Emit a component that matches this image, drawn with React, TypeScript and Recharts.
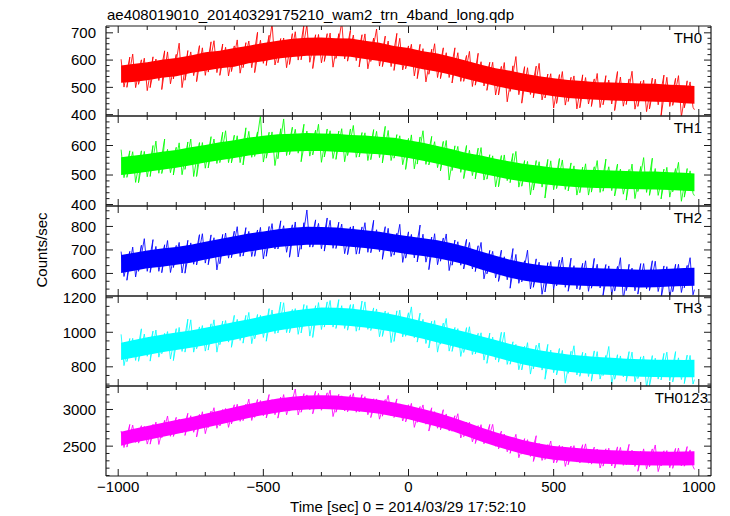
import React from "react";
import { ComposedChart, Line, Area, XAxis, YAxis } from "recharts";

const TITLE = "ae408019010_20140329175210_wam2_trn_4band_long.qdp";
const X_LABEL = "Time [sec] 0 = 2014/03/29 17:52:10";
const Y_LABEL = "Counts/sec";
const PANEL_NAMES = ["TH0", "TH1", "TH2", "TH3", "TH0123"];

const X_DOMAIN = [-1042, 1042];
const X_TICKS = [-1000, -900, -800, -700, -600, -500, -400, -300, -200, -100, 0, 100, 200, 300, 400, 500, 600, 700, 800, 900, 1000];
const X_TICK_LABELS = [-1000, -500, 0, 500, 1000];

const TH0_Y_DOMAIN = [395, 725];
const TH0_Y_TICKS = [400, 420, 440, 460, 480, 500, 520, 540, 560, 580, 600, 620, 640, 660, 680, 700, 720];
const TH0_Y_LABELS = [400, 500, 600, 700];
const TH1_Y_DOMAIN = [395, 700];
const TH1_Y_TICKS = [400, 420, 440, 460, 480, 500, 520, 540, 560, 580, 600, 620, 640, 660, 680];
const TH1_Y_LABELS = [400, 500, 600];
const TH2_Y_DOMAIN = [504, 887];
const TH2_Y_TICKS = [533.33, 566.67, 600, 633.33, 666.67, 700, 733.33, 766.67, 800, 833.33, 866.67];
const TH2_Y_LABELS = [600, 700, 800];
const TH3_Y_DOMAIN = [689, 1210];
const TH3_Y_TICKS = [700, 750, 800, 850, 900, 950, 1000, 1050, 1100, 1150, 1200];
const TH3_Y_LABELS = [800, 1000, 1200];
const TH0123_Y_DOMAIN = [2093, 3320];
const TH0123_Y_TICKS = [2100, 2200, 2300, 2400, 2500, 2600, 2700, 2800, 2900, 3000, 3100, 3200, 3300];
const TH0123_Y_LABELS = [2500, 3000];

// time grid of the noise band envelope
const BAND_T = [-990, -950, -900, -850, -800, -750, -700, -650, -600, -550, -500, -450, -400, -350, -300, -250, -200, -150, -100, -50, 0, 50, 100, 150, 200, 250, 300, 350, 400, 450, 500, 550, 600, 650, 700, 750, 800, 850, 900, 950, 985];

const TH0_LO = [517, 520, 526, 535, 541, 553, 561, 570, 576, 588, 596, 606, 611, 616, 617, 615, 612, 604, 597, 587, 577, 566, 557, 545, 531, 518, 505, 494, 485, 476, 467, 461, 457, 455, 452, 450, 449, 447, 446, 442, 440];
const TH0_HI = [580, 586, 592, 601, 608, 617, 629, 634, 644, 653, 663, 671, 678, 682, 683, 680, 679, 671, 664, 652, 644, 632, 624, 611, 598, 583, 570, 561, 550, 541, 533, 527, 523, 519, 518, 516, 514, 513, 510, 508, 505];
const TH1_LO = [500, 504, 511, 518, 525, 533, 542, 550, 558, 566, 573, 577, 580, 581, 581, 579, 576, 573, 570, 565, 558, 548, 538, 526, 515, 505, 495, 485, 477, 470, 465, 461, 458, 456, 455, 453, 452, 451, 449, 447, 445];
const TH1_HI = [560, 565, 571, 579, 585, 594, 602, 611, 618, 627, 633, 638, 640, 642, 641, 640, 636, 634, 630, 626, 618, 609, 598, 587, 575, 566, 555, 546, 537, 531, 525, 522, 518, 517, 515, 514, 512, 512, 509, 508, 505];
const TH2_LO = [602, 610, 622, 629, 637, 646, 659, 671, 682, 693, 703, 712, 718, 722, 722, 719, 714, 708, 701, 691, 682, 674, 665, 652, 637, 617, 599, 582, 569, 560, 554, 550, 548, 546, 544, 542, 540, 541, 544, 547, 548];
const TH2_HI = [678, 687, 698, 706, 713, 722, 735, 747, 758, 770, 779, 788, 794, 799, 798, 795, 790, 784, 777, 767, 758, 750, 741, 728, 713, 693, 675, 658, 645, 636, 630, 626, 624, 622, 620, 618, 616, 617, 620, 623, 624];
const TH3_LO = [840, 852, 869, 885, 898, 910, 925, 942, 957, 975, 993, 1010, 1023, 1035, 1042, 1042, 1037, 1028, 1016, 1002, 982, 962, 941, 920, 899, 877, 855, 832, 812, 796, 782, 771, 763, 757, 752, 747, 743, 741, 740, 740, 740];
const TH3_HI = [940, 954, 971, 985, 999, 1010, 1026, 1042, 1059, 1075, 1094, 1110, 1124, 1135, 1143, 1142, 1138, 1128, 1117, 1102, 1083, 1062, 1042, 1020, 1000, 977, 956, 932, 913, 896, 883, 871, 864, 857, 853, 847, 844, 841, 841, 840, 841];
const TH0123_LO = [2505, 2545, 2585, 2625, 2665, 2705, 2750, 2795, 2840, 2885, 2925, 2960, 2985, 3000, 3005, 3000, 2985, 2965, 2940, 2905, 2865, 2815, 2765, 2705, 2635, 2565, 2500, 2440, 2387, 2345, 2313, 2295, 2277, 2265, 2255, 2247, 2240, 2237, 2235, 2237, 2240];
const TH0123_HI = [2695, 2735, 2775, 2815, 2855, 2895, 2940, 2985, 3030, 3075, 3115, 3150, 3175, 3190, 3195, 3190, 3175, 3155, 3130, 3095, 3055, 3005, 2955, 2895, 2825, 2755, 2690, 2630, 2577, 2535, 2503, 2485, 2467, 2455, 2445, 2437, 2430, 2427, 2425, 2427, 2430];

// time grids of the individual excursions (two interleaved sets)
const SPIKE_T = [-990, -970, -950, -930, -910, -890, -870, -850, -830, -810, -790, -770, -750, -730, -710, -690, -670, -650, -630, -610, -590, -570, -550, -530, -510, -490, -470, -450, -430, -410, -390, -370, -350, -330, -310, -290, -270, -250, -230, -210, -190, -170, -150, -130, -110, -90, -70, -50, -30, -10, 10, 30, 50, 70, 90, 110, 130, 150, 170, 190, 210, 230, 250, 270, 290, 310, 330, 350, 370, 390, 410, 430, 450, 470, 490, 510, 530, 550, 570, 590, 610, 630, 650, 670, 690, 710, 730, 750, 770, 790, 810, 830, 850, 870, 890, 910, 930, 950, 970, 985];
const SPIKE_T2 = [-980, -960, -940, -920, -900, -880, -860, -840, -820, -800, -780, -760, -740, -720, -700, -680, -660, -640, -620, -600, -580, -560, -540, -520, -500, -480, -460, -440, -420, -400, -380, -360, -340, -320, -300, -280, -260, -240, -220, -200, -180, -160, -140, -120, -100, -80, -60, -40, -20, 0, 20, 40, 60, 80, 100, 120, 140, 160, 180, 200, 220, 240, 260, 280, 300, 320, 340, 360, 380, 400, 420, 440, 460, 480, 500, 520, 540, 560, 580, 600, 620, 640, 660, 680, 700, 720, 740, 760, 780, 800, 820, 840, 860, 880, 900, 920, 940, 960, 980];

const TH0_SPIKE = [603, 500, 622, 511, 607, 499, 604, 492, 630, 531, 662, 526, 630, 521, 645, 556, 671, 544, 647, 558, 674, 572, 670, 554, 673, 580, 735, 590, 681, 584, 704, 601, 730, 569, 694, 595, 699, 606, 740, 596, 692, 575, 696, 595, 714, 576, 670, 562, 680, 568, 658, 532, 642, 548, 660, 532, 627, 516, 627, 522, 632, 508, 594, 489, 592, 472, 591, 485, 613, 442, 572, 462, 588, 461, 550, 441, 558, 448, 542, 425, 536, 430, 551, 436, 527, 415, 538, 437, 559, 430, 526, 421, 530, 396, 537, 434, 543, 425, 520, 418];
const TH0_SPIKE2 = [501, 611, 499, 601, 488, 612, 525, 634, 513, 621, 499, 635, 543, 653, 544, 667, 554, 659, 542, 652, 552, 664, 572, 702, 588, 691, 582, 679, 572, 697, 600, 731, 592, 693, 590, 697, 574, 697, 604, 709, 598, 693, 568, 681, 578, 688, 576, 698, 564, 652, 542, 658, 520, 640, 536, 645, 536, 645, 522, 617, 503, 625, 505, 592, 472, 577, 447, 579, 473, 576, 474, 578, 454, 549, 424, 547, 435, 537, 421, 546, 439, 531, 426, 543, 439, 558, 431, 531, 420, 522, 411, 534, 436, 545, 430, 533, 392, 524, 427];
const TH1_SPIKE = [586, 492, 579, 474, 580, 495, 615, 505, 587, 500, 609, 519, 622, 495, 610, 524, 622, 542, 650, 541, 633, 534, 648, 563, 702, 557, 646, 555, 690, 569, 655, 545, 649, 568, 672, 561, 650, 553, 657, 566, 668, 561, 643, 552, 648, 541, 651, 557, 633, 519, 636, 537, 650, 534, 613, 514, 617, 515, 597, 488, 584, 487, 593, 486, 565, 460, 568, 474, 580, 462, 546, 449, 545, 422, 548, 454, 551, 446, 531, 440, 538, 442, 549, 445, 528, 429, 520, 415, 537, 444, 559, 431, 522, 419, 526, 443, 543, 425, 514, 430];
const TH1_SPIKE2 = [491, 582, 475, 582, 494, 600, 506, 622, 508, 594, 501, 612, 495, 610, 523, 630, 539, 645, 542, 635, 542, 660, 560, 646, 544, 645, 532, 657, 566, 662, 574, 672, 564, 652, 543, 656, 556, 649, 545, 656, 560, 644, 549, 654, 559, 665, 549, 637, 535, 624, 521, 629, 536, 631, 525, 614, 483, 599, 509, 600, 498, 591, 483, 569, 460, 566, 481, 573, 459, 549, 433, 549, 459, 553, 450, 556, 451, 541, 432, 527, 432, 528, 441, 554, 447, 537, 435, 519, 420, 529, 441, 557, 431, 520, 425, 522, 411, 522, 438];
const TH2_SPIKE = [693, 571, 712, 609, 748, 604, 715, 603, 740, 625, 732, 601, 730, 636, 769, 637, 752, 641, 772, 667, 799, 674, 779, 673, 796, 673, 812, 704, 803, 669, 819, 703, 870, 712, 813, 695, 826, 706, 810, 680, 802, 684, 816, 688, 786, 660, 792, 678, 809, 665, 766, 649, 767, 616, 769, 652, 768, 635, 735, 619, 732, 608, 732, 598, 694, 566, 671, 537, 681, 564, 699, 541, 648, 521, 650, 547, 669, 524, 633, 531, 654, 537, 639, 506, 632, 525, 667, 527, 623, 512, 642, 527, 652, 492, 629, 522, 639, 539, 667, 531];
const TH2_SPIKE2 = [587, 694, 585, 720, 609, 744, 609, 722, 604, 719, 602, 741, 639, 765, 644, 764, 615, 766, 665, 780, 672, 795, 672, 785, 662, 800, 704, 824, 690, 807, 670, 816, 712, 828, 705, 836, 707, 818, 684, 798, 682, 798, 690, 826, 693, 799, 672, 771, 647, 777, 666, 806, 648, 755, 637, 751, 612, 742, 635, 745, 619, 718, 577, 698, 581, 699, 573, 706, 558, 654, 534, 662, 511, 646, 533, 657, 541, 665, 534, 643, 524, 664, 538, 638, 509, 630, 491, 639, 526, 642, 534, 654, 523, 632, 498, 639, 519, 634, 509];
const TH3_SPIKE = [988, 830, 965, 832, 990, 833, 1013, 876, 1004, 836, 1028, 885, 1072, 904, 1039, 897, 1072, 928, 1068, 913, 1075, 937, 1115, 962, 1098, 948, 1129, 996, 1171, 997, 1137, 996, 1155, 970, 1172, 1030, 1184, 1022, 1154, 1012, 1162, 1012, 1176, 1010, 1135, 976, 1114, 947, 1128, 977, 1147, 943, 1075, 909, 1068, 931, 1080, 889, 1021, 883, 1032, 874, 997, 820, 972, 827, 1000, 815, 930, 782, 940, 788, 938, 728, 897, 753, 895, 762, 922, 745, 879, 717, 888, 749, 918, 728, 863, 716, 885, 732, 863, 691, 850, 724, 885, 712, 852, 703, 866, 726];
const TH3_SPIKE2 = [807, 964, 837, 1020, 861, 1007, 856, 994, 845, 1021, 889, 1076, 885, 1031, 891, 1049, 885, 1065, 943, 1098, 953, 1098, 934, 1103, 970, 1137, 993, 1175, 998, 1132, 988, 1161, 978, 1154, 1016, 1176, 1030, 1189, 1022, 1160, 1006, 1181, 1017, 1141, 974, 1123, 940, 1124, 973, 1113, 968, 1111, 935, 1064, 885, 1053, 891, 1028, 860, 1027, 871, 994, 839, 995, 841, 1000, 814, 945, 783, 919, 758, 925, 781, 930, 766, 906, 705, 890, 753, 884, 744, 892, 729, 866, 701, 870, 742, 888, 714, 858, 681, 865, 729, 878, 720, 888, 726, 868, 700];
const TH0123_SPIKE = [2706, 2487, 2787, 2541, 2769, 2527, 2828, 2614, 2911, 2632, 2869, 2646, 2915, 2625, 2969, 2753, 3024, 2775, 3014, 2802, 3071, 2847, 3141, 2892, 3122, 2884, 3133, 2882, 3203, 2978, 3279, 2962, 3199, 2941, 3219, 3007, 3263, 2962, 3186, 2968, 3219, 2967, 3175, 2889, 3144, 2908, 3193, 2890, 3076, 2830, 3083, 2824, 3062, 2706, 2971, 2721, 2939, 2703, 2942, 2629, 2826, 2536, 2793, 2542, 2797, 2463, 2665, 2402, 2661, 2391, 2588, 2291, 2537, 2317, 2570, 2275, 2498, 2247, 2507, 2270, 2531, 2255, 2461, 2227, 2472, 2201, 2483, 2245, 2445, 2157, 2463, 2218, 2516, 2230, 2440, 2197, 2474, 2226, 2449, 2183];
const TH0123_SPIKE2 = [2481, 2796, 2551, 2779, 2528, 2797, 2523, 2852, 2634, 2893, 2684, 2948, 2689, 2933, 2670, 2978, 2743, 3000, 2756, 3064, 2838, 3072, 2850, 3137, 2914, 3204, 2928, 3170, 2927, 3171, 2925, 3216, 2995, 3250, 2989, 3227, 2903, 3207, 2980, 3200, 2962, 3202, 2928, 3146, 2868, 3136, 2915, 3144, 2843, 3065, 2756, 3040, 2799, 3023, 2744, 2997, 2706, 2915, 2611, 2827, 2559, 2780, 2532, 2796, 2499, 2704, 2423, 2617, 2342, 2603, 2359, 2642, 2305, 2522, 2271, 2511, 2224, 2502, 2283, 2520, 2267, 2487, 2202, 2464, 2230, 2490, 2238, 2525, 2223, 2432, 2187, 2462, 2153, 2437, 2206, 2469, 2231, 2494, 2225];

// ---------- layout / style ----------
const W = 730;
const H = 516;
const PLOT_LEFT = 106;
const PLOT_RIGHT = 711;
const PANEL_H = 90;
const PAD = 12;
const PANEL_TOPS = [26, 116, 206, 296, 386];
const LABEL_RIGHT = [702, 702, 702, 702, 708];
const FONT = '"Liberation Sans", Arial, Helvetica, sans-serif';
const FRAME = "#1c1c1c";
const COLORS = ["#ff0000", "#00ff00", "#0000ff", "#00ffff", "#ff00ff"];

type PanelDef = {
  name: string;
  color: string;
  domain: number[];
  ticks: number[];
  labels: number[];
  lo: number[];
  hi: number[];
  spike: number[];
  spike2: number[];
};

const PANELS: PanelDef[] = [
  { name: PANEL_NAMES[0], color: COLORS[0], domain: TH0_Y_DOMAIN, ticks: TH0_Y_TICKS, labels: TH0_Y_LABELS, lo: TH0_LO, hi: TH0_HI, spike: TH0_SPIKE, spike2: TH0_SPIKE2 },
  { name: PANEL_NAMES[1], color: COLORS[1], domain: TH1_Y_DOMAIN, ticks: TH1_Y_TICKS, labels: TH1_Y_LABELS, lo: TH1_LO, hi: TH1_HI, spike: TH1_SPIKE, spike2: TH1_SPIKE2 },
  { name: PANEL_NAMES[2], color: COLORS[2], domain: TH2_Y_DOMAIN, ticks: TH2_Y_TICKS, labels: TH2_Y_LABELS, lo: TH2_LO, hi: TH2_HI, spike: TH2_SPIKE, spike2: TH2_SPIKE2 },
  { name: PANEL_NAMES[3], color: COLORS[3], domain: TH3_Y_DOMAIN, ticks: TH3_Y_TICKS, labels: TH3_Y_LABELS, lo: TH3_LO, hi: TH3_HI, spike: TH3_SPIKE, spike2: TH3_SPIKE2 },
  { name: PANEL_NAMES[4], color: COLORS[4], domain: TH0123_Y_DOMAIN, ticks: TH0123_Y_TICKS, labels: TH0123_Y_LABELS, lo: TH0123_LO, hi: TH0123_HI, spike: TH0123_SPIKE, spike2: TH0123_SPIKE2 },
];

const fmt = (v: number) => (v < 0 ? "\u2212" + Math.abs(v) : String(v));

// interleave the two excursion sets so that the trace alternates high/low
function buildTrace(a: number[], b: number[]) {
  const rows: { t: number; v: number }[] = [];
  for (let k = 0; k < SPIKE_T.length; k++) {
    const p1 = { t: SPIKE_T[k], v: a[k] };
    const p2 = k < SPIKE_T2.length ? { t: SPIKE_T2[k], v: b[k] } : null;
    if (k % 2 === 0) {
      rows.push(p1);
      if (p2) rows.push(p2);
    } else {
      if (p2) rows.push(p2);
      rows.push(p1);
    }
  }
  return rows;
}

function Panel({ idx, def, last }: { idx: number; def: PanelDef; last: boolean }) {
  const mb = last ? 45 : PAD;
  const h = PANEL_H + PAD + mb;
  const plotTop = PAD;
  const plotBottom = PAD + PANEL_H;
  const band = BAND_T.map((t, i) => ({ t, r: [def.lo[i], def.hi[i]] }));
  const trace = buildTrace(def.spike, def.spike2);

  const isMajorY = (v: number) => def.labels.some((l) => Math.abs(l - v) < 0.01);

  const yTick = (side: string) => (p: any) => {
    const y = p.payload.coordinate;
    const v = p.payload.value;
    const major = isMajorY(v);
    const len = major ? 7 : 3.5;
    if (side === "l") {
      return (
        <g>
          <line x1={PLOT_LEFT} x2={PLOT_LEFT + len} y1={y} y2={y} stroke={FRAME} strokeWidth={1} />
          {major && (
            <text x={96} y={y} dy="0.36em" textAnchor="end" fontFamily={FONT} fontSize={15} fill="#000">
              {fmt(v)}
            </text>
          )}
        </g>
      );
    }
    return <line x1={PLOT_RIGHT} x2={PLOT_RIGHT - len} y1={y} y2={y} stroke={FRAME} strokeWidth={1} />;
  };

  const xTick = (side: string) => (p: any) => {
    const x = p.payload.coordinate;
    const v = p.payload.value;
    const major = X_TICK_LABELS.includes(v);
    const len = major ? 7 : 4;
    if (side === "t") {
      return <line x1={x} x2={x} y1={plotTop} y2={plotTop + len} stroke={FRAME} strokeWidth={1} />;
    }
    return (
      <g>
        <line x1={x} x2={x} y1={plotBottom} y2={plotBottom - len} stroke={FRAME} strokeWidth={1} />
        {last && major && (
          <text x={x} y={plotBottom + 16} textAnchor="middle" fontFamily={FONT} fontSize={15} fill="#000">
            {fmt(v)}
          </text>
        )}
      </g>
    );
  };

  return (
    <div style={{ position: "absolute", left: 0, top: PANEL_TOPS[idx] - PAD }}>
      <ComposedChart
        width={W}
        height={h}
        margin={{ top: PAD - 1, right: W - PLOT_RIGHT - 1, bottom: mb - 1, left: PLOT_LEFT - 1 }}
      >
        <XAxis
          xAxisId="b"
          orientation="bottom"
          type="number"
          dataKey="t"
          domain={X_DOMAIN}
          allowDataOverflow
          ticks={X_TICKS}
          interval={0}
          height={1}
          tickLine={false}
          tick={xTick("b")}
          axisLine={{ stroke: FRAME, strokeWidth: 1.2 }}
        />
        <XAxis
          xAxisId="t"
          orientation="top"
          type="number"
          dataKey="t"
          domain={X_DOMAIN}
          allowDataOverflow
          ticks={X_TICKS}
          interval={0}
          height={1}
          tickLine={false}
          tick={xTick("t")}
          axisLine={{ stroke: FRAME, strokeWidth: 1.2 }}
        />
        <YAxis
          yAxisId="l"
          orientation="left"
          type="number"
          domain={def.domain}
          allowDataOverflow
          ticks={def.ticks}
          interval={0}
          width={1}
          tickLine={false}
          tick={yTick("l")}
          axisLine={{ stroke: FRAME, strokeWidth: 1.2 }}
        />
        <YAxis
          yAxisId="r"
          orientation="right"
          type="number"
          domain={def.domain}
          allowDataOverflow
          ticks={def.ticks}
          interval={0}
          width={1}
          tickLine={false}
          tick={yTick("r")}
          axisLine={{ stroke: FRAME, strokeWidth: 1.2 }}
        />
        <Area
          xAxisId="b"
          yAxisId="l"
          data={band}
          dataKey="r"
          type="linear"
          stroke="none"
          fill={def.color}
          fillOpacity={1}
          dot={false}
          activeDot={false}
          isAnimationActive={false}
        />
        <Line
          xAxisId="b"
          yAxisId="l"
          data={trace}
          dataKey="v"
          type="linear"
          stroke={def.color}
          strokeWidth={0.85}
          dot={false}
          activeDot={false}
          isAnimationActive={false}
        />
      </ComposedChart>
    </div>
  );
}

export default function App() {
  return (
    <div style={{ position: "absolute", left: 0, top: 0, width: W, height: H, background: "#fff", overflow: "hidden" }}>
      {PANELS.map((def, i) => (
        <Panel key={def.name} idx={i} def={def} last={i === PANELS.length - 1} />
      ))}
      <svg width={W} height={H} style={{ position: "absolute", left: 0, top: 0, pointerEvents: "none" }}>
        <text x={107} y={20} fontFamily={FONT} fontSize={15} fill="#000">
          {TITLE}
        </text>
        {PANELS.map((def, i) => (
          <text key={def.name} x={LABEL_RIGHT[i]} y={PANEL_TOPS[i] + 17} textAnchor="end" fontFamily={FONT} fontSize={15} fill="#000">
            {def.name}
          </text>
        ))}
        <text x={47} y={250} transform="rotate(-90 47 250)" textAnchor="middle" fontFamily={FONT} fontSize={15} fill="#000">
          {Y_LABEL}
        </text>
        <text x={408} y={512} textAnchor="middle" fontFamily={FONT} fontSize={15} fill="#000">
          {X_LABEL}
        </text>
      </svg>
    </div>
  );
}
